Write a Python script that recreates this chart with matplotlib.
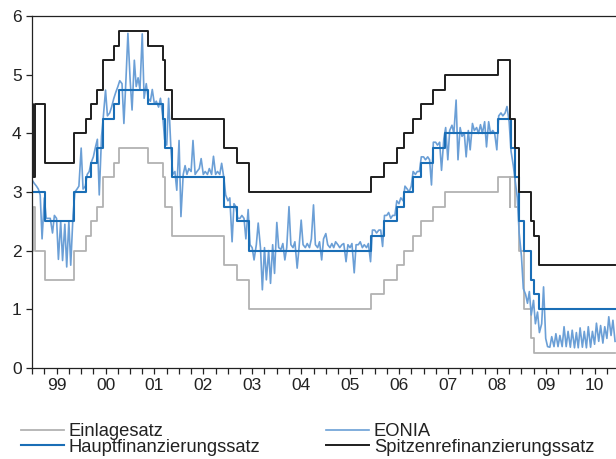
import numpy as np
import pandas as pd
import matplotlib
matplotlib.use("Agg")
import matplotlib.pyplot as plt
import matplotlib.dates as mdates
from matplotlib.ticker import FixedLocator, NullFormatter

plt.rcParams['font.family'] = ['Liberation Sans', 'DejaVu Sans']

# --- Leitzinsen (Stufen) ---
mro_dates = ['1999-01-01', '1999-04-09', '1999-11-05', '2000-02-04', '2000-03-17', '2000-04-28',
             '2000-06-09', '2000-09-01', '2000-10-06', '2001-05-11', '2001-08-31', '2001-09-18',
             '2001-11-09', '2002-12-06', '2003-03-07', '2003-06-06', '2005-12-06', '2006-03-08',
             '2006-06-15', '2006-08-09', '2006-10-11', '2006-12-13', '2007-03-14', '2007-06-13',
             '2008-07-09', '2008-10-15', '2008-11-12', '2008-12-10', '2009-01-21', '2009-03-11',
             '2009-04-08', '2009-05-13']
mro = [3.0, 2.5, 3.0, 3.25, 3.5, 3.75, 4.25, 4.5, 4.75, 4.5, 4.25, 3.75, 3.25, 2.75, 2.5, 2.0,
       2.25, 2.5, 2.75, 3.0, 3.25, 3.5, 3.75, 4.0, 4.25, 3.75, 3.25, 2.5, 2.0, 1.5, 1.25, 1.0]

corr_dates = ['1999-01-01', '1999-01-04', '1999-01-22', '1999-04-09', '1999-11-05', '2000-02-04',
              '2000-03-17', '2000-04-28', '2000-06-09', '2000-09-01', '2000-10-06', '2001-05-11',
              '2001-08-31', '2001-09-18', '2001-11-09', '2002-12-06', '2003-03-07', '2003-06-06',
              '2005-12-06', '2006-03-08', '2006-06-15', '2006-08-09', '2006-10-11', '2006-12-13',
              '2007-03-14', '2007-06-13', '2008-07-09', '2008-10-08', '2008-10-09', '2008-11-12',
              '2008-12-10', '2009-01-21', '2009-03-11', '2009-04-08', '2009-05-13']
einlage = [2.0, 2.75, 2.0, 1.5, 2.0, 2.25, 2.5, 2.75, 3.25, 3.5, 3.75, 3.5, 3.25, 2.75, 2.25, 1.75,
           1.5, 1.0, 1.25, 1.5, 1.75, 2.0, 2.25, 2.5, 2.75, 3.0, 3.25, 2.75, 3.25, 2.75, 2.0, 1.0,
           0.5, 0.25, 0.25]
spitzen = [4.5, 3.25, 4.5, 3.5, 4.0, 4.25, 4.5, 4.75, 5.25, 5.5, 5.75, 5.5, 5.25, 4.75, 4.25, 3.75,
           3.5, 3.0, 3.25, 3.5, 3.75, 4.0, 4.25, 4.5, 4.75, 5.0, 5.25, 4.75, 4.25, 3.75, 3.0, 3.0,
           2.5, 2.25, 1.75]

end_date = '2010-12-01'

eonia = [
    3.2, 3.15, 3.1, 3.05, 2.95, 2.2, 2.9, 2.55, 2.55, 2.55, 2.3, 2.6,        # 1999
    2.55, 1.85, 2.5, 1.83, 2.45, 1.72, 2.5, 1.75, 2.6, 3.0, 3.05, 3.1,
    3.75, 3.05, 3.1, 3.3, 3.35, 3.5, 3.6, 3.75, 3.9, 2.95, 3.95, 4.3,       # 2000
    4.74, 4.3, 4.35, 4.45, 4.6, 4.7, 4.8, 4.9, 4.85, 4.17, 4.95, 5.71,
    4.9, 4.4, 5.25, 4.8, 4.95, 4.75, 5.7, 4.6, 4.85, 4.6, 4.55, 4.75,       # 2001
    4.5, 4.55, 4.45, 4.6, 4.3, 3.9, 3.8, 4.6, 3.75, 3.3, 3.35, 3.03,
    3.88, 2.58, 3.3, 3.45, 3.3, 3.4, 3.35, 3.88, 3.3, 3.35, 3.4, 3.57,      # 2002
    3.3, 3.35, 3.3, 3.4, 3.3, 3.61, 3.3, 3.35, 3.3, 3.49, 3.25, 2.95,
    2.85, 2.9, 2.15, 2.8, 2.75, 2.55, 2.55, 2.6, 2.55, 2.2, 2.7, 2.1,       # 2003
    2.05, 1.84, 2.1, 2.47, 2.05, 1.33, 2.05, 1.5, 2.0, 1.44, 2.1, 1.61,
    2.48, 2.05, 2.02, 2.12, 1.84, 2.05, 2.75, 2.1, 2.05, 2.15, 1.7, 2.05,   # 2004
    2.52, 2.1, 2.05, 2.12, 2.05, 2.2, 2.78, 2.1, 2.05, 2.15, 1.84, 2.2,
    2.29, 2.1, 2.05, 2.12, 2.05, 2.15, 2.1, 2.05, 2.1, 2.12, 1.81, 2.1,     # 2005
    2.05, 2.12, 1.62, 2.1, 2.1, 2.15, 2.05, 2.1, 2.05, 2.12, 1.81, 2.35,
    2.35, 2.3, 2.35, 2.35, 2.07, 2.6, 2.6, 2.65, 2.55, 2.6, 2.6, 2.85,      # 2006
    2.8, 2.9, 2.85, 3.1, 3.05, 3.0, 3.1, 3.35, 3.3, 3.35, 3.35, 3.6,
    3.6, 3.55, 3.6, 3.55, 3.12, 3.85, 3.85, 3.8, 3.85, 3.37, 3.9, 4.1,      # 2007
    3.55, 4.05, 4.14, 4.0, 4.57, 3.55, 4.1, 3.95, 4.0, 3.6, 4.05, 3.72,
    4.17, 4.05, 4.1, 4.0, 4.15, 4.0, 4.2, 3.77, 4.2, 4.0, 4.05, 4.0,        # 2008
    3.72, 4.3, 4.35, 4.3, 4.35, 4.46, 4.2, 3.7, 3.45, 3.2, 2.9, 2.3,
    1.9, 1.35, 1.25, 1.1, 1.3, 0.9, 1.15, 0.75, 0.95, 0.6, 0.75, 1.38,      # 2009
    0.5, 0.36, 0.35, 0.53, 0.36, 0.58, 0.36, 0.55, 0.36, 0.70, 0.36, 0.62,
    0.35, 0.64, 0.34, 0.6, 0.34, 0.68, 0.35, 0.62, 0.34, 0.70, 0.35, 0.62,  # 2010
    0.4, 0.76, 0.45, 0.72, 0.42, 0.70, 0.5, 0.87, 0.55, 0.81, 0.45,
]
eonia_dates = pd.date_range('1999-01-01', end_date, freq='SMS')

years = list(range(1999, 2011))
year_labels = ['99', '00', '01', '02', '03', '04', '05', '06', '07', '08', '09', '10']


def step_xy(dates, values):
    d = list(pd.to_datetime(dates)) + [pd.Timestamp(end_date)]
    v = list(values) + [values[-1]]
    return mdates.date2num(d), v


W, H = 616, 459
fig = plt.figure(figsize=(W / 100, H / 100), dpi=100)
ax = fig.add_axes([32.3 / W, 1 - 367.7 / H, 1 - 32.3 / W, (367.7 - 16.3) / H])

x, y = step_xy(corr_dates, einlage)
l_ein, = ax.plot(x, y, drawstyle='steps-post', color='#b2b2b2', lw=1.3, label='Einlagesatz')
l_eon, = ax.plot(mdates.date2num(eonia_dates), eonia, color='#6b9fd6', lw=1.2, label='EONIA')
x, y = step_xy(mro_dates, mro)
l_mro, = ax.plot(x, y, drawstyle='steps-post', color='#1a6eb6', lw=1.5,
                 label='Hauptfinanzierungssatz')
x, y = step_xy(corr_dates, spitzen)
l_spi, = ax.plot(x, y, drawstyle='steps-post', color='#1e1e1e', lw=1.4,
                 label='Spitzenrefinanzierungssatz')

ax.set_ylim(0, 6)
ax.set_xlim(mdates.date2num(pd.Timestamp('1999-01-01')), mdates.date2num(pd.Timestamp('2010-12-08')))
ax.set_yticks(range(0, 7))

mid = mdates.date2num([pd.Timestamp(f'{yr}-07-01') for yr in years])
quarters = mdates.date2num([pd.Timestamp(f'{yr}-{m:02d}-01') for yr in years for m in (1, 4, 10)])
ax.xaxis.set_major_locator(FixedLocator(mid))
ax.set_xticklabels(year_labels)
ax.xaxis.set_minor_locator(FixedLocator(quarters))
ax.xaxis.set_minor_formatter(NullFormatter())

for s in ['left', 'bottom', 'top']:
    ax.spines[s].set_color('#222222')
    ax.spines[s].set_linewidth(0.9)
ax.spines['right'].set_visible(False)
ax.tick_params(axis='both', which='both', direction='out', length=4.2, width=0.9,
               color='#222222', labelsize=12.5, labelcolor='#222222')
ax.tick_params(axis='x', pad=3)
ax.tick_params(axis='y', pad=3.5)

fig.legend(handles=[l_ein, l_mro, l_eon, l_spi], ncol=2, frameon=False,
           loc='upper left', bbox_to_anchor=(21 / W, 1 - 423 / H),
           fontsize=13.2, handlelength=2.35, handletextpad=0.25, columnspacing=3.6,
           labelspacing=-0.08, borderpad=0, borderaxespad=0, labelcolor='#222222')

fig.savefig('out.png', dpi=100)
